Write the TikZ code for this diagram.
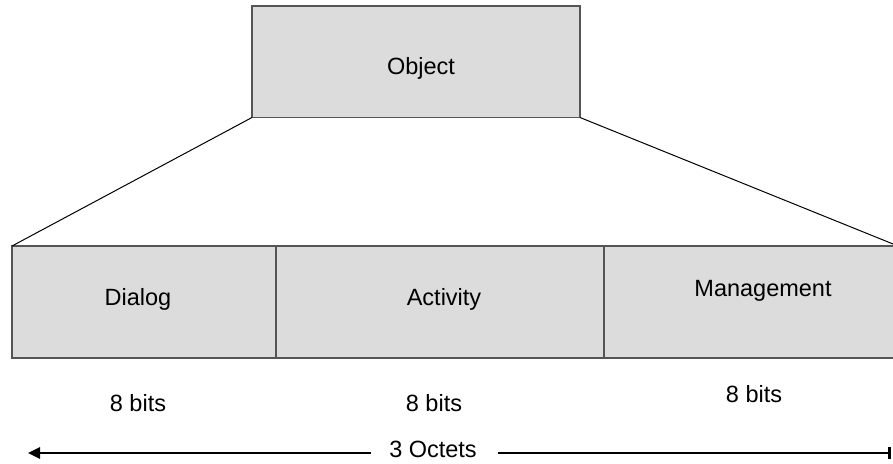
\documentclass[tikz,border=0pt]{standalone}
\usepackage{fontspec}
\setmainfont{Liberation Sans}
\usetikzlibrary{arrows.meta}
\definecolor{boxfill}{HTML}{DCDCDC}
\definecolor{boxedge}{HTML}{555555}
\tikzset{
  field/.style={draw=boxedge, line width=1.6pt, fill=boxfill, inner sep=0pt, outer sep=0pt},
  lbl/.style={inner sep=0pt, font=\fontsize{23.5pt}{28pt}\selectfont},
  fan/.style={draw=black, line width=1pt},
  span/.style={draw=black, line width=2.6pt}
}
\begin{document}
\begin{tikzpicture}[x=1pt, y=-1pt]
  \useasboundingbox (0,0) rectangle (893,463);
  \clip (0,0) rectangle (893,463);
  % the object box
  \node[field, minimum width=328pt, minimum height=111.5pt] (obj) at (416,61.75) {};
  \node[lbl] (objtxt) at (421,68) {Object};
  % the three fields below it
  \node[field, minimum width=264pt, minimum height=112pt] (dlg) at (144,302) {};
  \node[field, minimum width=328pt, minimum height=112pt] (act) at (440,302) {};
  \node[field, minimum width=294pt, minimum height=112pt] (mgt) at (751,302) {};
  \node[lbl] (dlgtxt) at (138,299) {Dialog};
  \node[lbl] (acttxt) at (444,299) {Activity};
  \node[lbl] (mgttxt) at (763,291) {Management};
  % lines fanning out from the object to the fields
  \draw[fan] (obj.south west) -- (dlg.north west);
  \draw[fan] (obj.south east) -- (mgt.north east);
  % field sizes
  \node[lbl] (b1) at (138,403) {8 bits};
  \node[lbl] (b2) at (434,403) {8 bits};
  \node[lbl] (b3) at (754,394) {8 bits};
  % total length
  \node[lbl] (oct) at (433,449) {3 Octets};
  \coordinate (endL) at (28,453);
  \coordinate (endR) at (891,453);
  \draw[span, -{Triangle[length=12pt, width=11pt]}] ([xshift=-18pt]oct.west |- endL) -- (endL);
  \draw[span, -{Bar[width=12pt, line width=3pt]}] ([xshift=21pt]oct.east |- endR) -- (endR);
\end{tikzpicture}
\end{document}
